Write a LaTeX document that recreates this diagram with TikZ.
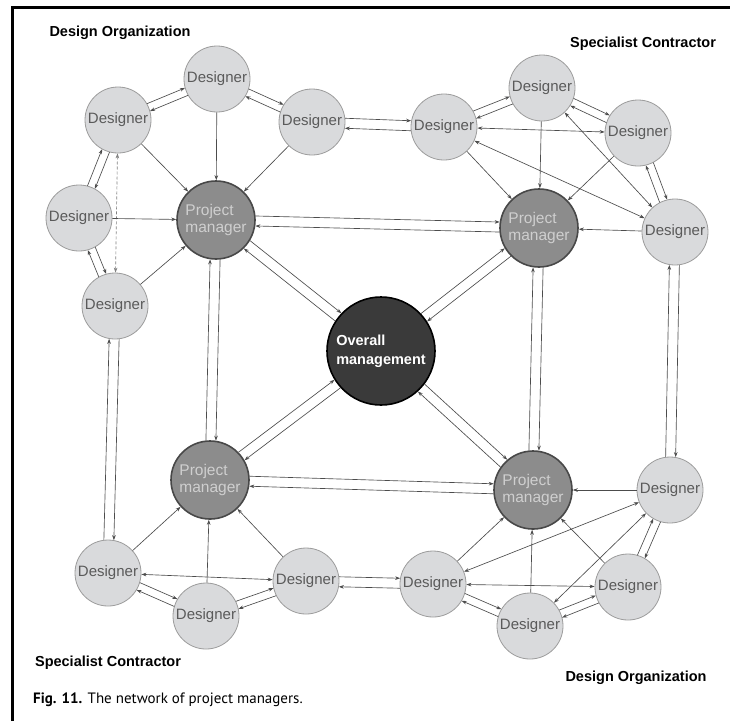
\documentclass[tikz,border=0pt]{standalone}
\usepackage{fontspec}
\setmainfont{Liberation Sans}
\newfontfamily\capfont{PT Sans}
\usetikzlibrary{calc,arrows.meta}

\definecolor{desfill}{HTML}{D9DADC}
\definecolor{desline}{HTML}{9C9C9C}
\definecolor{destext}{HTML}{5A5A5A}
\definecolor{pmfill}{HTML}{8C8C8C}
\definecolor{pmline}{HTML}{484848}
\definecolor{pmtext}{HTML}{CFCFCF}
\definecolor{omfill}{HTML}{3A3A3A}
\definecolor{lncol}{HTML}{4C4C4C}

% two parallel connectors between circles #1 and #2 (radii #3, #4), one each way
\newcommand\twoway[5]{%
  \draw[conn,tip,shorten <=#3pt,shorten >=#4pt]
    ($(#1.center)!#5pt!90:(#2.center)$) -- ($(#2.center)!#5pt!-90:(#1.center)$);
  \draw[conn,tip,shorten <=#4pt,shorten >=#3pt]
    ($(#2.center)!#5pt!90:(#1.center)$) -- ($(#1.center)!#5pt!-90:(#2.center)$);
}

\begin{document}
\begin{tikzpicture}[x=1pt,y=-1pt,
  designer/.style={circle, draw=desline, fill=desfill, line width=0.8pt,
    minimum size=66pt, inner sep=0pt, text=destext,
    font=\fontsize{15}{16}\selectfont},
  manager/.style={circle, draw=pmline, fill=pmfill, line width=1.6pt,
    minimum size=78pt, inner sep=0pt, text=pmtext, align=left,
    font=\fontsize{15.5}{16.5}\selectfont},
  overall/.style={circle, draw=black, fill=omfill, line width=1.6pt,
    minimum size=108pt, inner sep=0pt, text=white, align=left,
    font=\fontsize{14.5}{19}\selectfont\bfseries},
  grouplabel/.style={font=\fontsize{14.5}{16}\selectfont\bfseries, text=black, inner sep=0pt},
  conn/.style={draw=lncol, line width=0.65pt},
  tip/.style={-{Stealth[length=5pt,width=3.6pt]}},
  both/.style={{Stealth[length=5pt,width=3.6pt]}-{Stealth[length=5pt,width=3.6pt]}},
]
\useasboundingbox (0,0) rectangle (730,721);
\fill[white] (0,0) rectangle (730,721);

% frame edges
\draw[line width=3pt] (12,721) -- (12,7) -- (730,7);

% group labels and caption
\node[grouplabel] (lblTL) at (120,33) {Design Organization};
\node[grouplabel] (lblTR) at (643,44) {Specialist Contractor};
\node[grouplabel] (lblBL) at (108,663) {Specialist Contractor};
\node[grouplabel] (lblBR) at (636,678) {Design Organization};
\node[anchor=west, inner sep=0pt, font=\capfont\fontsize{15}{17}\selectfont] (caption) at (33,700)
  {\textbf{Fig. 11.} The network of project managers.};

% central node and project managers
\node[overall] (OM) at (381,351) {Overall\\management};
\node[manager] (PM1) at (216,220) {Project\\manager};
\node[manager] (PM2) at (539,228) {Project\\manager};
\node[manager] (PM3) at (210,480) {Project\\manager};
\node[manager] (PM4) at (533,490) {Project\\manager};

% designers, upper left
\node[designer] (D1) at (118,120) {Designer};
\node[designer] (D2) at (217,79) {Designer};
\node[designer] (D3) at (312,122) {Designer};
\node[designer] (D4) at (79,218) {Designer};
\node[designer] (D5) at (115,306) {Designer};
% designers, upper right
\node[designer] (E1) at (444,127) {Designer};
\node[designer] (E2) at (542,88) {Designer};
\node[designer] (E3) at (638,133) {Designer};
\node[designer] (E4) at (675,232) {Designer};
% designers, lower left
\node[designer] (F1) at (108,573) {Designer};
\node[designer] (F2) at (206,616) {Designer};
\node[designer] (F3) at (306,581) {Designer};
% designers, lower right
\node[designer] (G1) at (670,490) {Designer};
\node[designer] (G2) at (433,584) {Designer};
\node[designer] (G3) at (530,626) {Designer};
\node[designer] (G4) at (628,587) {Designer};

% links among managers
\twoway{PM1}{PM2}{39.5}{39.5}{5}
\twoway{PM3}{PM4}{39.5}{39.5}{5}
\twoway{PM1}{PM3}{39.5}{39.5}{5}
\twoway{PM2}{PM4}{39.5}{39.5}{5}
\twoway{OM}{PM1}{54.5}{39.5}{5}
\twoway{OM}{PM2}{54.5}{39.5}{5}
\twoway{OM}{PM3}{54.5}{39.5}{5}
\twoway{OM}{PM4}{54.5}{39.5}{5}

% upper left group
\twoway{D1}{D2}{33}{33}{4}
\twoway{D2}{D3}{33}{33}{4}
\twoway{D1}{D4}{33}{33}{4}
\twoway{D4}{D5}{33}{33}{4}
\draw[conn,both,densely dashed,draw=lncol!70] (D1) -- (D5);
\foreach \d in {D1,D2,D3,D4,D5} \draw[conn,tip] (\d) -- (PM1);

% upper right group
\twoway{D3}{E1}{33}{33}{5}
\twoway{E1}{E2}{33}{33}{4}
\twoway{E2}{E3}{33}{33}{4}
\twoway{E3}{E4}{33}{33}{4}
\draw[conn,both] (E1) -- (E3);
\draw[conn,both] (E1) -- (E4);
\draw[conn,both] (E2) -- (E4);
\foreach \d in {E1,E2,E3,E4} \draw[conn,tip] (\d) -- (PM2);

% links down the sides
\twoway{D5}{F1}{33}{33}{5}
\twoway{E4}{G1}{33}{33}{5}

% lower left group
\twoway{F1}{F2}{33}{33}{4}
\twoway{F2}{F3}{33}{33}{4}
\draw[conn,both] (F1) -- (F3);
\foreach \d in {F1,F2,F3} \draw[conn,tip] (\d) -- (PM3);
\twoway{F3}{G2}{33}{33}{5}

% lower right group
\twoway{G1}{G4}{33}{33}{4}
\twoway{G2}{G3}{33}{33}{4}
\twoway{G3}{G4}{33}{33}{4}
\draw[conn,both] (G2) -- (G1);
\draw[conn,both] (G3) -- (G1);
\draw[conn,both] (G2) -- (G4);
\foreach \d in {G1,G2,G3,G4} \draw[conn,tip] (\d) -- (PM4);
\end{tikzpicture}
\end{document}
